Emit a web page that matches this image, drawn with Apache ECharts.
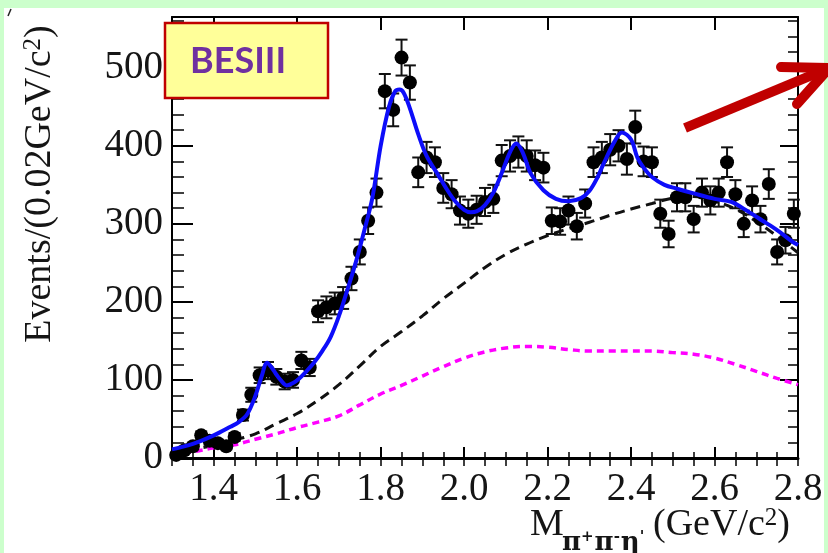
<!DOCTYPE html>
<html>
<head>
<meta charset="utf-8">
<script src="https://cdn.jsdelivr.net/npm/echarts@6/dist/echarts.min.js"></script>
<style>
  html, body { margin: 0; padding: 0; background: #ccffcc; width: 828px; height: 553px; overflow: hidden; }
  #panel { position: absolute; left: 4px; top: 8px; width: 820px; height: 545px; background: #ffffff; }
  #chart { position: absolute; left: 0; top: 0; width: 828px; height: 553px; }
</style>
</head>
<body>
<div id="panel"></div>
<div id="chart"></div>
<script>
// Bin centres of the pi+ pi- eta' invariant mass histogram (GeV/c^2), 0.02 GeV bins
const binCenters = [
  1.31, 1.33, 1.35, 1.37, 1.39, 1.41, 1.43, 1.45, 1.47, 1.49,
  1.51, 1.53, 1.55, 1.57, 1.59, 1.61, 1.63, 1.65, 1.67, 1.69,
  1.71, 1.73, 1.75, 1.77, 1.79, 1.81, 1.83, 1.85, 1.87, 1.89,
  1.91, 1.93, 1.95, 1.97, 1.99, 2.01, 2.03, 2.05, 2.07, 2.09,
  2.11, 2.13, 2.15, 2.17, 2.19, 2.21, 2.23, 2.25, 2.27, 2.29,
  2.31, 2.33, 2.35, 2.37, 2.39, 2.41, 2.43, 2.45, 2.47, 2.49,
  2.51, 2.53, 2.55, 2.57, 2.59, 2.61, 2.63, 2.65, 2.67, 2.69,
  2.71, 2.73, 2.75, 2.77, 2.79
];
// Events per bin
const counts = [
  4, 10, 15, 29, 22, 19, 15, 27, 55, 81,
  106, 112, 104, 98, 100, 125, 116, 188, 193, 198,
  205, 230, 264, 304, 340, 470, 446, 513, 481, 366,
  385, 379, 346, 338, 317, 313, 318, 328, 332, 381,
  387, 392, 387, 375, 372, 304, 303, 317, 297, 326,
  379, 385, 395, 400, 383, 424, 380, 379, 313, 287,
  334, 334, 306, 340, 330, 340, 379, 338, 300, 330,
  306, 351, 264, 279, 313
];
// Statistical uncertainty per bin
const errors = [
  2, 3, 4, 5, 5, 4, 4, 5, 7, 9,
  10, 11, 10, 10, 10, 11, 11, 14, 14, 14,
  14, 15, 16, 17, 18, 22, 21, 23, 22, 19,
  20, 19, 19, 18, 18, 18, 18, 18, 18, 20,
  20, 20, 20, 19, 19, 17, 17, 18, 17, 18,
  19, 20, 20, 20, 20, 21, 19, 19, 18, 17,
  18, 18, 17, 18, 18, 18, 19, 18, 17, 18,
  17, 19, 16, 17, 18
];

// Total fit (blue)
const fitMass = [
  1.30, 1.35, 1.40, 1.44, 1.46, 1.48, 1.50, 1.515, 1.528, 1.54,
  1.55, 1.56, 1.575, 1.59, 1.605, 1.62, 1.64, 1.66, 1.68, 1.70,
  1.72, 1.74, 1.76, 1.78, 1.80, 1.82, 1.835, 1.845, 1.855, 1.87,
  1.89, 1.91, 1.935, 1.96, 1.98, 2.00, 2.015, 2.03, 2.05, 2.07,
  2.09, 2.11, 2.125, 2.14, 2.16, 2.19, 2.22, 2.25, 2.28, 2.30,
  2.32, 2.335, 2.36, 2.378, 2.40, 2.415, 2.43, 2.45, 2.48, 2.51,
  2.55, 2.60, 2.64, 2.68, 2.715, 2.75, 2.787, 2.80
];
const fitTotal = [
  11, 18, 29, 40, 46, 56, 80, 105, 122, 115,
  107, 100, 93, 96, 102, 110, 122, 137, 155, 182,
  215, 250, 290, 333, 400, 450, 470, 472, 468, 448,
  415, 387, 365, 343, 328, 318, 315, 316, 324, 340,
  365, 392, 403, 392, 364, 343, 332, 329, 333, 342,
  360, 378, 405, 417, 408, 385, 372, 360, 350, 345,
  339, 332, 328, 316, 304, 292, 277, 273
];

// Background components sampled every 0.05 GeV/c^2
const curveMass = [
  1.30, 1.35, 1.40, 1.45, 1.50, 1.55, 1.60, 1.65, 1.70, 1.75,
  1.80, 1.85, 1.90, 1.95, 2.00, 2.05, 2.10, 2.15, 2.20, 2.25,
  2.30, 2.35, 2.40, 2.45, 2.50, 2.55, 2.60, 2.65, 2.70, 2.75, 2.80
];
// Black dashed: non-resonant background
const bkgDashed = [
  6, 11, 16, 23, 31, 44, 57, 74, 94, 118,
  143, 162, 182, 204, 224, 244, 261, 274, 285, 294,
  302, 311, 319, 326, 333, 335, 329, 319, 303, 284, 263
];
// Magenta dotted: second background component
const bkgDotted = [
  4, 8, 13, 17, 24, 31, 39, 46, 54, 68,
  82, 93, 105, 117, 128, 136, 141, 143, 142, 139,
  137, 137, 137, 137, 135, 133, 128, 120, 111, 102, 94
];

// Axis tick labels
const xTickLabels = [1.4, 1.6, 1.8, 2.0, 2.2, 2.4, 2.6, 2.8];
const yTickLabels = [0, 100, 200, 300, 400, 500];

const serif = 'Liberation Serif';
const ink = '#151515';

const chart = echarts.init(document.getElementById('chart'), null, { renderer: 'canvas' });

const pairs = (xs, ys) => xs.map((x, i) => [x, ys[i]]);
const errorData = binCenters.map((m, i) => [m, counts[i] - errors[i], counts[i] + errors[i]]);

const hidden = { show: false };
const xBase = { type: 'value', min: 1.3, max: 2.8, splitLine: hidden };
const yBase = { type: 'value', min: 0, max: 565, splitLine: hidden };

const option = {
  animation: false,
  backgroundColor: 'transparent',
  grid: { left: 172, right: 30, top: 17, bottom: 95, containLabel: false, outerBoundsMode: 'none' },
  xAxis: [
    Object.assign({}, xBase, {
      position: 'bottom',
      axisLine: { show: true, onZero: false, lineStyle: { color: '#000', width: 3 } },
      axisTick: { show: true, inside: true, length: 11, customValues: xTickLabels, lineStyle: { color: '#000', width: 2 } },
      axisLabel: { show: true, customValues: xTickLabels, margin: 12, formatter: v => v.toFixed(1),
                   fontFamily: serif, fontSize: 39, color: ink }
    }),
    Object.assign({}, xBase, {
      position: 'bottom', interval: 0.05,
      axisLine: hidden,
      axisTick: { show: true, inside: true, length: 6, lineStyle: { color: '#000', width: 1.5 } },
      axisLabel: hidden
    }),
    Object.assign({}, xBase, {
      position: 'top',
      axisLine: { show: true, onZero: false, lineStyle: { color: '#000', width: 2 } },
      axisTick: { show: true, inside: true, length: 13, customValues: xTickLabels, lineStyle: { color: '#000', width: 2 } },
      axisLabel: hidden
    }),
    Object.assign({}, xBase, {
      position: 'top', interval: 0.05,
      axisLine: hidden,
      axisTick: { show: true, inside: true, length: 8, lineStyle: { color: '#000', width: 1.5 } },
      axisLabel: hidden
    })
  ],
  yAxis: [
    Object.assign({}, yBase, {
      position: 'left',
      axisLine: { show: true, onZero: false, lineStyle: { color: '#000', width: 2 } },
      axisTick: { show: true, inside: true, length: 21, customValues: yTickLabels, lineStyle: { color: '#000', width: 2 } },
      axisLabel: { show: true, customValues: yTickLabels, margin: 9,
                   fontFamily: serif, fontSize: 39, color: ink }
    }),
    Object.assign({}, yBase, {
      position: 'left', interval: 20,
      axisLine: hidden,
      axisTick: { show: true, inside: true, length: 12, lineStyle: { color: '#000', width: 1.5 } },
      axisLabel: hidden
    }),
    Object.assign({}, yBase, {
      position: 'right',
      axisLine: { show: true, onZero: false, lineStyle: { color: '#000', width: 2 } },
      axisTick: { show: true, inside: true, length: 18, customValues: yTickLabels, lineStyle: { color: '#000', width: 2 } },
      axisLabel: hidden
    }),
    Object.assign({}, yBase, {
      position: 'right', interval: 20,
      axisLine: hidden,
      axisTick: { show: true, inside: true, length: 10, lineStyle: { color: '#000', width: 1.5 } },
      axisLabel: hidden
    })
  ],
  series: [
    {
      name: 'background', type: 'line', xAxisIndex: 0, yAxisIndex: 0,
      data: pairs(curveMass, bkgDashed), smooth: 0.4, showSymbol: false, z: 2,
      lineStyle: { color: '#111', width: 3, type: [10, 6] }
    },
    {
      name: 'component', type: 'line', xAxisIndex: 0, yAxisIndex: 0,
      data: pairs(curveMass, bkgDotted), smooth: 0.4, showSymbol: false, z: 2,
      lineStyle: { color: '#ff00ff', width: 3.5, type: [7, 5] }
    },
    {
      name: 'errors', type: 'custom', xAxisIndex: 0, yAxisIndex: 0,
      data: errorData, encode: { x: 0, y: [1, 2] }, z: 3,
      renderItem: function (params, api) {
        const x = api.value(0);
        const lo = api.coord([x, api.value(1)]);
        const hi = api.coord([x, api.value(2)]);
        const cap = 6;
        const st = { stroke: '#111', lineWidth: 2 };
        return {
          type: 'group',
          children: [
            { type: 'line', shape: { x1: lo[0], y1: lo[1], x2: hi[0], y2: hi[1] }, style: st },
            { type: 'line', shape: { x1: lo[0] - cap, y1: lo[1], x2: lo[0] + cap, y2: lo[1] }, style: st },
            { type: 'line', shape: { x1: hi[0] - cap, y1: hi[1], x2: hi[0] + cap, y2: hi[1] }, style: st }
          ]
        };
      }
    },
    {
      name: 'data', type: 'scatter', xAxisIndex: 0, yAxisIndex: 0,
      data: pairs(binCenters, counts), symbol: 'circle', symbolSize: 14, z: 4,
      itemStyle: { color: '#000', opacity: 1 }
    },
    {
      name: 'fit', type: 'line', xAxisIndex: 0, yAxisIndex: 0,
      data: pairs(fitMass, fitTotal), smooth: 0.35, showSymbol: false, z: 5,
      lineStyle: { color: '#0d0dfa', width: 4 }
    }
  ],
  graphic: [
    // small stroke in the upper-left corner
    { type: 'line', z: 100, shape: { x1: 8, y1: 16, x2: 11, y2: 9 }, style: { stroke: '#222', lineWidth: 1.5 } },
    // y-axis title
    {
      type: 'text', z: 100, x: 40, y: 184, rotation: Math.PI / 2,
      style: {
        text: '{a|Events/(0.02GeV/c}{s|2}{a|)}',
        align: 'center', verticalAlign: 'middle',
        rich: {
          a: { fontFamily: serif, fontSize: 38, fill: ink },
          s: { fontFamily: serif, fontSize: 25, fill: ink, verticalAlign: 'top' }
        }
      }
    },
    // x-axis title
    { type: 'text', z: 100, x: 530, y: 525,
      style: { text: 'M', fontFamily: serif, fontSize: 38, fill: ink, align: 'left', verticalAlign: 'middle' } },
    {
      type: 'text', z: 100, x: 562, y: 543,
      style: {
        text: "{p|π}{u|+}{p|π}{u|-}{p|η}{u|'}",
        align: 'left', verticalAlign: 'middle',
        rich: {
          p: { fontFamily: 'DejaVu Serif', fontSize: 26, fontWeight: 'bold', fill: ink },
          u: { fontFamily: 'DejaVu Serif', fontSize: 15, fontWeight: 'bold', fill: ink, verticalAlign: 'top', padding: [0, 1, 0, 0] }
        }
      }
    },
    {
      type: 'text', z: 100, x: 653, y: 525,
      style: {
        text: '{a|(GeV/c}{s|2}{a|)}',
        align: 'left', verticalAlign: 'middle',
        rich: {
          a: { fontFamily: serif, fontSize: 38, fill: ink },
          s: { fontFamily: serif, fontSize: 25, fill: ink, verticalAlign: 'top' }
        }
      }
    },
    // experiment label box
    { type: 'rect', z: 100, shape: { x: 165, y: 23, width: 163, height: 75 },
      style: { fill: '#ffff99', stroke: '#c00000', lineWidth: 2.5 } },
    { type: 'text', z: 101, x: 190, y: 61,
      style: { text: 'BESIII', fontFamily: 'Lato', fontWeight: 'bold', fontSize: 36, fill: '#7030a0',
               align: 'left', verticalAlign: 'middle' } },
    // red arrow
    { type: 'polyline', z: 100, shape: { points: [[685, 128], [829, 68]] },
      style: { stroke: '#c00000', lineWidth: 10, fill: null, lineCap: 'butt' } },
    { type: 'polyline', z: 100, shape: { points: [[781, 67], [829, 68], [797, 104]] },
      style: { stroke: '#c00000', lineWidth: 10, fill: null, lineCap: 'round', lineJoin: 'miter' } }
  ]
};

chart.setOption(option);
</script>
</body>
</html>
